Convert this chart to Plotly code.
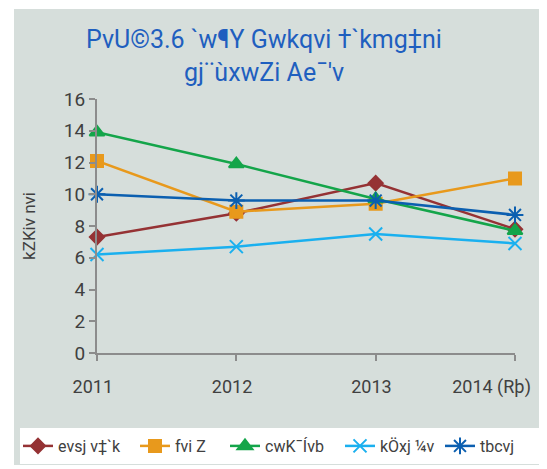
import plotly.graph_objects as go

years = ["2011", "2012", "2013", "2014 (Rþ)"]
series_names = ["evsj v‡`k", "fvi Z", "cwK¯Ívb", "kÖxj ¼v", "tbcvj"]
bangladesh = [7.3, 8.8, 10.7, 7.8]
india = [12.1, 8.9, 9.4, 11.0]
pakistan = [13.9, 11.9, 9.7, 7.7]
srilanka = [6.2, 6.7, 7.5, 6.9]
nepal = [10.0, 9.6, 9.6, 8.7]
y_ticks = [0, 2, 4, 6, 8, 10, 12, 14, 16]
title_text = "PvU©3.6 `w¶Y Gwkqvi †`kmg‡ni<br>gj¨ùxwZi Ae¯'v"
y_title = "kZKiv nvi"

values = [bangladesh, india, pakistan, srilanka, nepal]
colors = ["#953234", "#e8991c", "#14a54a", "#1ab0ef", "#0b5fb0"]
symbols = ["diamond", "square", "triangle-up", "x-thin-open", "asterisk-open"]
msizes = [11, 12, 13, 13, 14]
legend_widths = [72, 45, 70, 55, 35]

FONT = "Roboto, sans-serif"

OFF = 8  # page body margin
W, H = 547, 469
L, R, T, B = 89, 40, 91, 124
pw = W - L - R
ph = H - T - B

def px(xp):
    return (xp - OFF - L) / pw

def py(yp):
    return (H - B - (yp - OFF)) / ph

fig = go.Figure()
xs = list(range(len(years)))
for name, vals, c, s, ms, lw in zip(series_names, values, colors, symbols, msizes, legend_widths):
    fig.add_trace(go.Scatter(
        x=xs, y=vals, name=name, mode="lines+markers",
        line=dict(color=c, width=2.5),
        marker=dict(symbol=s, size=ms, color=c, line=dict(color=c, width=2)),
        cliponaxis=False, legendwidth=lw,
    ))

# background panel and legend box
fig.add_shape(type="rect", xref="paper", yref="paper",
              x0=px(14), x1=px(W + 20), y0=py(9), y1=py(465),
              fillcolor="#d6dedb", line=dict(width=0), layer="below")
fig.add_shape(type="rect", xref="paper", yref="paper",
              x0=px(20), x1=px(W + 20), y0=py(428), y1=py(464),
              fillcolor="white", line=dict(width=0), layer="below")

fig.update_layout(
    width=W, height=H,
    margin=dict(l=L, r=R, t=T, b=B, autoexpand=False),
    paper_bgcolor="white", plot_bgcolor="rgba(0,0,0,0)",
    title=dict(text=title_text, x=(264 - OFF) / W, xanchor="center", y=1 - 40 / H, yanchor="middle",
               font=dict(family=FONT, size=25, color="#1f5fbf")),
    showlegend=True,
    legend=dict(orientation="h", x=px(18), xanchor="left", y=py(446), yanchor="middle",
                bgcolor="rgba(0,0,0,0)", font=dict(family=FONT, size=16, color="#404040"),
                itemwidth=30, traceorder="normal"),
    font=dict(family=FONT, color="#404040"),
)
fig.update_xaxes(
    range=[0, 3], tickmode="array", tickvals=xs, ticktext=years,
    ticklabelposition="outside left", ticklabelshift=18, ticklabelstandoff=16,
    automargin=False,
    showgrid=False, zeroline=False, showline=True, linecolor="#8c8c8c", linewidth=2,
    ticks="outside", ticklen=6, tickcolor="#8c8c8c", tickwidth=2,
    tickfont=dict(family=FONT, size=18, color="#404040"),
)
fig.update_yaxes(
    range=[0, 16], tickmode="array", tickvals=y_ticks, automargin=False,
    showgrid=False, zeroline=False, showline=True, linecolor="#8c8c8c", linewidth=2,
    ticks="outside", ticklen=6, tickcolor="#8c8c8c", tickwidth=2,
    tickfont=dict(family=FONT, size=19, color="#404040"),
    title=dict(text=y_title, font=dict(family=FONT, size=17, color="#404040"), standoff=24),
)

fig.write_html("out.html")
